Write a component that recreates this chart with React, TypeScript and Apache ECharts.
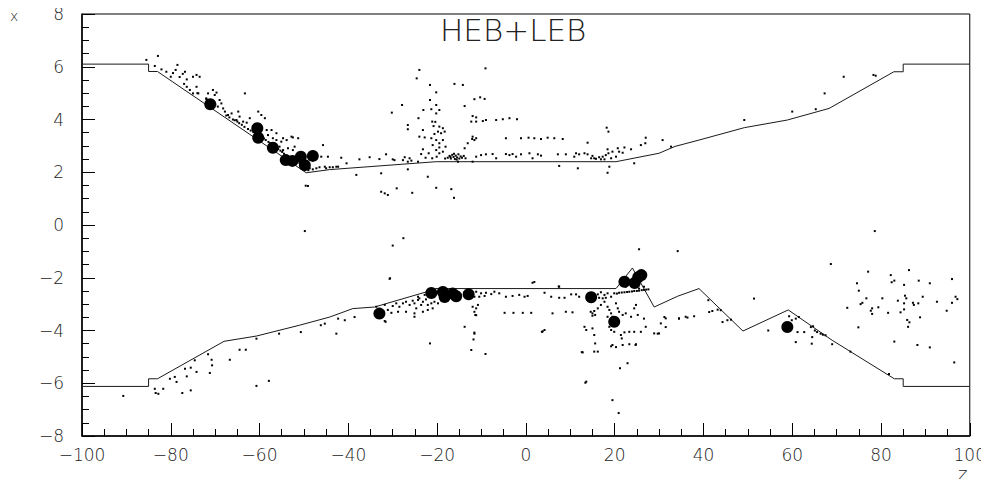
import React, { useEffect, useRef } from "react";
import * as echarts from "echarts";

// Beam-pipe envelope, [z, x]
const upperWall: number[][] = [
  [-100, 6.1], [-85, 6.1], [-85, 5.82], [-83, 5.82], [-49.5, 1.98], [-44.2, 2.1],
  [-20.2, 2.4], [20.3, 2.4], [30, 2.72], [33.6, 2.98], [39, 3.22], [49.2, 3.69],
  [58.9, 3.98], [68.3, 4.42], [82.9, 5.81], [85, 5.81], [85, 6.1], [100, 6.1],
];
const lowerWall: number[][] = [
  [-100, -6.12], [-85, -6.12], [-85, -5.83], [-83, -5.83], [-68, -4.41], [-60.7, -4.21],
  [-51, -3.8], [-44.2, -3.49], [-39, -3.17], [-34.1, -3.11], [-22.5, -2.54], [-20.3, -2.41],
  [20.3, -2.41], [24, -1.63], [28.9, -3.11], [34.2, -2.7], [39, -2.41], [48.9, -4.02],
  [59.1, -3.22], [69, -4.37], [83, -5.83], [85, -5.83], [85, -6.12], [100, -6.12],
];

// Large deposits
const upperHits: number[][] = [
  [-71.1, 4.58], [-60.5, 3.67], [-60.3, 3.31], [-57.0, 2.93], [-54.1, 2.46],
  [-52.6, 2.43], [-50.7, 2.59], [-49.8, 2.27], [-48.0, 2.62],
];
const lowerHits: number[][] = [
  [-33.0, -3.36], [-21.3, -2.58], [-18.7, -2.54], [-18.3, -2.73], [-16.5, -2.6],
  [-15.7, -2.7], [-12.9, -2.63], [14.7, -2.74], [19.9, -3.67], [22.2, -2.15],
  [24.5, -2.2], [25.3, -1.98], [26.0, -1.9], [58.9, -3.87],
];

// Small deposits
const upperLeftDots: number[][] = [
  [-85.5, 6.26], [-82.9, 6.41], [-83.6, 6.03], [-82.1, 5.9], [-81.0, 5.81], [-79.5, 5.76],
  [-78.9, 5.88], [-78.5, 6.07], [-78.0, 5.61], [-77.3, 5.73], [-76.8, 5.81], [-76.4, 5.52],
  [-75.0, 5.62], [-74.2, 5.69], [-73.5, 5.62], [-76.4, 5.24], [-75.7, 5.12], [-74.2, 5.24],
  [-73.8, 4.99], [-75.0, 4.99], [-71.6, 4.99], [-70.5, 5.12], [-70.1, 4.93], [-69.7, 5.02],
  [-72.0, 4.8], [-69.0, 4.74], [-68.6, 4.61], [-69.4, 4.49], [-68.2, 4.42], [-67.8, 4.3],
  [-67.1, 4.17], [-66.3, 4.23], [-64.8, 4.3], [-64.5, 4.11], [-65.2, 3.98], [-63.3, 4.99],
  [-63.7, 3.92], [-62.9, 3.88], [-62.2, 4.05], [-61.5, 3.73], [-60.3, 4.3], [-59.6, 4.17],
  [-58.8, 4.05], [-58.4, 3.6], [-58.1, 3.41], [-57.3, 3.6], [-56.2, 3.48], [-57.0, 3.29],
  [-56.2, 3.22], [-55.1, 3.16], [-54.7, 3.29], [-53.9, 3.22], [-52.8, 3.35], [-52.5, 3.32],
  [-51.3, 3.29], [-55.5, 2.97], [-54.7, 2.84], [-53.6, 2.91], [-52.5, 2.84], [-52.1, 2.97],
  [-51.3, 2.72], [-45.7, 3.03], [-46.1, 2.59], [-44.6, 2.59], [-45.3, 2.21], [-45.0, 2.15],
  [-43.5, 2.19], [-42.7, 2.21], [-49.1, 1.48], [-49.6, 1.49], [-49.8, -0.23],
  [-80, 5.62], [-77, 5.35], [-74, 5.0], [-72, 4.78], [-70, 4.57], [-66, 4.0], [-65, 3.92],
  [-64, 3.8], [-62, 3.58], [-61, 3.47], [-59, 3.28], [-58, 3.15], [-56.5, 2.98], [-55.8, 2.88],
  [-54.5, 2.7], [-53.8, 2.62], [-53, 2.5], [-51.8, 2.45], [-51, 2.35], [-50.5, 2.25],
  [-50, 2.1], [-49, 2.08], [-48.7, 2.15], [-48.0, 2.11], [-47.2, 2.15], [-46.5, 2.19],
  [-44.2, 2.19], [-42.3, 2.21],
  [-67.5, 4.15], [-66.8, 4.08], [-65.6, 3.97], [-64.6, 3.86], [-63.4, 3.72], [-62.6, 3.64],
  [-61.4, 3.52], [-59.8, 3.36], [-58.6, 3.22], [-57.6, 3.1], [-56.9, 3.03], [-55.3, 2.82],
  [-54.9, 2.77], [-53.4, 2.58], [-52.3, 2.5], [-51.5, 2.4],
];
const upperCentreDots: number[][] = [
  [-24.0, 5.88], [-24.6, 5.56], [-21.6, 5.31], [-16.1, 5.35], [-14.2, 5.31], [-9.1, 5.94],
  [-20.2, 5.03], [-27.9, 4.55], [-30.2, 4.26], [-21.6, 4.74], [-20.2, 4.55], [-21.3, 4.39],
  [-19.5, 4.36], [-20.2, 4.23], [-23.1, 4.36], [-24.2, 4.05], [-13.8, 4.51], [-11.6, 4.77],
  [-10.3, 4.84], [-9.3, 4.78], [-12.0, 4.13], [-11.2, 4.08], [-12.3, 3.92], [-11.2, 3.92],
  [-9.7, 3.94], [-9.0, 3.98], [-6.7, 3.98], [-5.2, 4.01], [-3.7, 4.05], [-2.0, 4.01],
  [-26.6, 3.79], [-26.6, 3.63], [-23.2, 3.6], [-21.1, 3.92], [-20.4, 3.91], [-20.8, 3.75],
  [-19.5, 3.73], [-18.7, 3.67], [-19.8, 3.54], [-20.6, 3.45], [-19.1, 3.48], [-18.3, 3.54],
  [-24.0, 3.35], [-22.8, 3.32], [-21.3, 3.29], [-20.2, 3.22], [-18.7, 3.22], [-19.5, 3.1],
  [-21.0, 3.03], [-19.5, 2.94], [-18.1, 2.97], [-23.2, 2.87], [-23.6, 2.69], [-21.9, 2.72],
  [-20.2, 2.84], [-19.5, 2.72], [-18.7, 2.78], [-12.0, 3.35], [-11.6, 3.22], [-12.1, 3.26],
  [-11.2, 3.29], [-13.1, 3.1], [-13.8, 2.91], [-4.5, 3.29],
  [-30.0, 2.49], [-27.7, 2.46], [-26.6, 2.4], [-25.8, 2.44], [-31.5, 2.68], [-41.6, 2.55],
  [-38.2, 1.9], [-32.6, 1.96], [-26.6, 2.11], [-22.1, 1.83], [-32.6, 1.26], [-31.8, 1.2],
  [-31.1, 1.14], [-29.1, 1.39], [-25.6, 1.22], [-20.2, 1.41], [-16.8, 1.36], [-16.2, 1.03],
  [-11.2, 2.59], [-10.1, 2.65], [-9.0, 2.68], [-7.5, 2.69], [-6.7, 2.53], [-4.5, 2.69],
  [-3.7, 2.65], [-3.0, 2.69], [-2.2, 2.59], [-13.6, 2.53], [-15.3, 2.4], [-12.0, 2.4],
  [-22.6, 2.55], [-21.1, 2.53], [-20.1, 2.59],
  [-17.6, 2.55], [-17.2, 2.62], [-16.9, 2.52], [-16.6, 2.66], [-16.3, 2.58], [-16.0, 2.5],
  [-15.8, 2.63], [-15.5, 2.56], [-15.2, 2.68], [-15.0, 2.52], [-14.7, 2.6], [-14.4, 2.55],
  [-17.0, 2.58], [-16.2, 2.7], [-15.6, 2.48], [-18.2, 2.52], [-14.0, 2.62],
  [-40.4, 2.34], [-37.5, 2.49], [-35.2, 2.57], [-33.0, 2.5], [-29.6, 2.46], [-27.3, 2.57],
  [-26.2, 2.53], [-24.3, 2.4],
];
const upperRightDots: number[][] = [
  [18.2, 3.69], [18.6, 3.54], [-1.1, 3.29], [0.6, 3.31], [1.9, 3.29], [3.4, 3.26], [4.9, 3.31],
  [6.4, 3.29], [8.3, 3.26], [13.9, 3.12], [27.0, 3.31], [26.9, 3.1], [25.9, 3.03], [30.8, 3.22],
  [-1.1, 2.68], [0.8, 2.72], [2.7, 2.68], [3.4, 2.63], [1.5, 2.53], [7.2, 2.68], [9.0, 2.68],
  [10.9, 2.59], [11.3, 2.72], [12.0, 2.68], [13.2, 2.72], [13.9, 2.68], [15.0, 2.62],
  [15.4, 2.53], [16.5, 2.57], [17.3, 2.59], [18.0, 2.65], [18.6, 2.72], [18.4, 2.87],
  [19.5, 2.78], [20.7, 2.91], [21.0, 2.78], [22.2, 2.94], [23.7, 2.87], [20.3, 2.59],
  [19.2, 2.53], [16.9, 2.49], [15.8, 2.51], [7.5, 2.24], [11.7, 2.15], [18.8, 2.21],
  [18.4, 1.98], [24.4, 2.34], [21.8, 2.74], [14.7, 2.53], [17.7, 2.49],
  [49.2, 3.98], [60.0, 4.3], [65.3, 4.39], [67.3, 4.99], [71.6, 5.62], [78.3, 5.69],
  [78.8, 5.66], [78.6, -0.23], [32.7, 2.97], [-27.6, -0.5], [-30.0, -0.78], [25.5, -0.92],
];
const lowerLeftDots: number[][] = [
  [-90.7, -6.48], [-83.6, -6.21], [-83.4, -6.37], [-82.8, -6.4], [-81.7, -6.21], [-80.2, -5.83],
  [-79.1, -5.76], [-78.7, -5.95], [-77.4, -6.37], [-76.8, -5.45], [-76.4, -5.74], [-75.5, -5.41],
  [-75.5, -6.27], [-74.6, -5.13], [-74.2, -5.57], [-71.6, -4.9], [-70.8, -5.11], [-70.7, -5.32],
  [-71.2, -5.61], [-66.7, -5.11], [-64.5, -4.73], [-63.1, -4.73], [-60.7, -4.31], [-60.7, -6.1],
  [-57.9, -5.91], [-55.6, -4.12], [-50.7, -4.06], [-46.2, -3.8], [-45.3, -3.74],
  [-42.3, -3.55], [-40.8, -3.61], [-38.6, -3.49], [-42.7, -4.12], [-30.7, -2.04], [-31.8, -3.64],
  [-30.6, -2.02], [-33.7, -3.1], [-31.8, -3.03], [-31.1, -3.22], [-30.0, -3.07], [-29.2, -2.97],
  [-28.5, -3.1], [-27.7, -2.97], [-27.0, -2.91], [-26.2, -3.03], [-25.5, -2.87], [-25.1, -2.97],
  [-24.3, -2.84], [-24.0, -2.78], [-23.2, -2.91], [-22.5, -2.82], [-23.6, -3.03], [-22.1, -3.03],
  [-21.3, -2.97], [-20.6, -2.91], [-19.8, -2.97], [-24.7, -3.16], [-23.2, -3.29], [-25.1, -3.35],
  [-27.0, -3.29], [-28.8, -3.29], [-25.1, -3.48], [-31.6, -3.67], [-30.3, -3.33], [-22.1, -3.22],
  [-21.0, -3.16], [-24.3, -2.72], [-22.8, -2.65], [-21.7, -2.72],
];
const lowerCentreDots: number[][] = [
  [1.5, -2.19], [-11.2, -2.53], [-10.1, -2.59], [-9.0, -2.57], [-7.8, -2.62], [-7.1, -2.53],
  [-6.0, -2.59], [-4.5, -2.72], [-3.0, -2.69], [-1.5, -2.65], [-0.3, -2.72], [0.4, -2.69],
  [-11.6, -2.72], [-10.5, -2.72], [-9.3, -2.69], [4.2, -2.57], [5.7, -2.72], [7.5, -2.34],
  [-12.0, -3.1], [-11.2, -3.16], [-11.6, -3.29], [-10.8, -3.03], [-11.4, -3.41], [-4.8, -3.33],
  [-2.8, -3.33], [-0.7, -3.33], [1.2, -3.33], [6.0, -3.35], [3.6, -4.05], [4.2, -3.98],
  [-13.8, -3.86], [-11.6, -4.08], [-11.8, -4.34], [-12.3, -4.74], [-21.6, -4.49], [-9.1, -4.89],
  [-11.2, -3.42], [-11.6, -4.12], [1.9, -2.16], [7.4, -2.33], [3.8, -4.03], [12.6, -4.82],
  [13.4, -5.98],
];
const lowerForwardDots: number[][] = [
  [7.5, -2.76], [8.7, -2.76], [9.0, -3.29], [10.5, -3.31], [10.2, -2.63], [12.0, -2.72],
  [11.3, -2.63], [15.0, -3.35], [14.6, -3.29], [15.4, -3.26], [15.0, -3.44], [15.6, -3.41],
  [16.2, -3.16], [16.9, -3.03], [17.7, -2.91], [18.4, -3.1], [18.8, -3.22], [19.2, -3.35],
  [19.5, -3.48], [18.4, -3.48], [20.3, -2.97], [20.7, -3.16], [21.0, -3.29], [21.8, -3.41],
  [22.5, -3.35], [23.7, -3.48], [25.2, -3.41], [24.4, -3.16], [24.8, -3.03],
  [13.2, -3.86], [13.6, -3.98], [15.0, -3.92], [15.4, -4.17], [15.6, -4.49], [15.4, -4.8],
  [16.2, -4.8], [12.8, -4.83], [18.8, -3.86], [19.2, -3.98], [19.9, -4.05], [21.4, -4.17],
  [21.6, -4.3], [22.2, -4.07], [23.3, -4.05], [24.4, -4.05], [25.9, -4.05], [19.5, -4.55],
  [21.8, -4.55], [23.3, -4.52], [24.7, -4.55], [27.0, -3.86], [28.9, -4.11], [30.0, -4.11],
  [30.4, -3.73], [31.5, -3.54], [34.5, -3.54], [36.0, -3.48], [22.9, -5.24], [21.2, -5.43],
  [13.6, -5.94], [19.5, -6.64], [20.9, -7.13], [19.2, -4.6], [20.3, -4.63], [24.8, -4.52],
  [26.6, -3.55], [29.7, -4.12],
  [19.9, -2.59], [21.0, -2.57], [22.2, -2.55], [23.3, -2.53], [24.4, -2.5], [25.5, -2.49],
  [26.6, -2.46], [27.6, -2.44], [20.5, -2.6], [21.6, -2.56], [22.8, -2.54], [23.9, -2.52],
  [25.0, -2.5], [26.1, -2.47], [27.1, -2.45], [16.2, -2.63], [16.9, -2.55], [17.7, -2.65],
  [18.4, -2.59], [19.2, -2.72], [18.0, -2.76], [17.3, -2.78], [16.5, -2.76], [25.5, -2.41],
  [26.6, -2.34], [22.5, -2.34],
];
const lowerRightDots: number[][] = [
  [34.2, -0.99], [51.4, -2.79], [31.2, -3.49], [31.5, -3.87], [34.5, -3.55], [36.4, -3.51],
  [37.9, -3.46], [41.3, -3.3], [42.0, -3.26], [43.2, -3.21], [43.9, -3.23], [44.3, -3.68],
  [45.4, -3.61], [46.2, -3.59], [41.1, -2.85], [54.6, -4.0], [59.3, -3.46], [59.9, -3.61],
  [60.8, -3.55], [61.5, -3.49], [61.2, -4.06], [60.8, -4.44], [62.7, -4.06], [64.2, -3.87],
  [64.7, -3.84], [65.1, -4.0], [65.6, -4.06], [66.4, -4.12], [66.9, -4.16], [67.5, -4.18],
  [64.5, -4.25], [64.4, -4.5], [69.0, -4.52], [81.8, -5.65], [73.1, -4.8],
  [68.7, -1.48], [77.1, -1.77], [82.2, -1.9], [86.3, -1.71], [88.5, -2.11], [91.0, -2.21],
  [96.0, -2.05], [74.6, -2.21], [75.0, -2.49], [82.4, -2.17], [83.0, -2.11], [85.2, -2.27],
  [76.7, -2.78], [75.8, -2.95], [75.4, -3.0], [79.4, -3.12], [80.3, -2.78], [78.0, -3.16],
  [77.7, -3.25], [78.0, -3.37], [72.4, -3.14], [83.8, -2.87], [85.4, -2.68], [85.7, -2.78],
  [85.2, -2.97], [85.2, -3.2], [84.4, -3.31], [81.6, -3.33], [87.2, -2.95], [87.4, -3.03],
  [88.4, -2.97], [89.4, -2.72], [92.6, -2.91], [96.0, -2.95], [96.8, -2.72], [97.2, -2.81],
  [94.8, -3.25], [85.9, -3.6], [86.4, -3.69], [88.8, -3.5], [86.1, -3.86], [74.9, -3.88],
  [83.0, -4.42], [88.2, -4.55], [91.0, -4.64], [96.5, -5.21],
];

const xTicks = { min: -100, max: 100, step: 20 };
const yTicks = { min: -8, max: 8, step: 2 };

const FONT = "DejaVu Sans";
const minus = (v: number) => String(v).replace("-", "\u2212");

export default function App() {
  const ref = useRef<HTMLDivElement>(null);

  useEffect(() => {
    if (!ref.current) return;
    const chart = echarts.init(ref.current, undefined, { renderer: "svg" });

    const dotSeries = (data: number[][]) => ({
      type: "scatter",
      data,
      symbol: "rect",
      symbolSize: 2,
      itemStyle: { color: "#000", opacity: 1 },
      silent: true,
      z: 3,
    });
    const wallSeries = (data: number[][]) => ({
      type: "line",
      data,
      symbol: "none",
      lineStyle: { color: "#1a1a1a", width: 1 },
      silent: true,
      z: 2,
    });

    const axisCommon = {
      axisLine: { show: true, onZero: false, lineStyle: { color: "#000", width: 1.5 } },
      axisTick: { show: true, inside: true, length: 13, lineStyle: { color: "#000", width: 1 } },
      minorTick: { show: true, splitNumber: 4, length: 7, lineStyle: { color: "#000", width: 1 } },
      splitLine: { show: false },
      axisLabel: {
        fontFamily: FONT,
        fontWeight: 200,
        fontSize: 17,
        color: "#222",
        formatter: (v: number) => minus(v),
      },
    };

    chart.setOption({
      animation: false,
      backgroundColor: "#fff",
      grid: {
        left: 82,
        right: 18,
        top: 14,
        bottom: 51,
        show: true,
        borderColor: "#000",
        borderWidth: 1,
        backgroundColor: "transparent",
      },
      xAxis: {
        type: "value",
        min: xTicks.min,
        max: xTicks.max,
        interval: xTicks.step,
        ...axisCommon,
        axisLabel: { ...axisCommon.axisLabel, margin: 10 },
      },
      yAxis: {
        type: "value",
        min: yTicks.min,
        max: yTicks.max,
        interval: yTicks.step,
        ...axisCommon,
        axisLabel: { ...axisCommon.axisLabel, margin: 18 },
      },
      graphic: [
        {
          type: "text",
          left: 440,
          top: 14,
          style: { text: "HEB+LEB", font: `200 31px "${FONT}"`, fill: "#222" },
        },
        {
          type: "text",
          left: 10,
          top: 9,
          style: { text: "x", font: `200 14px "${FONT}"`, fill: "#222" },
        },
        {
          type: "text",
          left: 958,
          top: 464,
          style: { text: "z", font: `300 18px "${FONT}"`, fill: "#222" },
        },
      ],
      series: [
        wallSeries(upperWall),
        wallSeries(lowerWall),
        dotSeries(upperLeftDots),
        dotSeries(upperCentreDots),
        dotSeries(upperRightDots),
        dotSeries(lowerLeftDots),
        dotSeries(lowerCentreDots),
        dotSeries(lowerForwardDots),
        dotSeries(lowerRightDots),
        {
          type: "scatter",
          data: [...upperHits, ...lowerHits],
          symbol: "circle",
          symbolSize: 12,
          itemStyle: { color: "#000", opacity: 1 },
          silent: true,
          z: 4,
        },
      ],
    });

    return () => chart.dispose();
  }, []);

  return <div ref={ref} style={{ width: 989, height: 487, margin: -8 }} />;
}
